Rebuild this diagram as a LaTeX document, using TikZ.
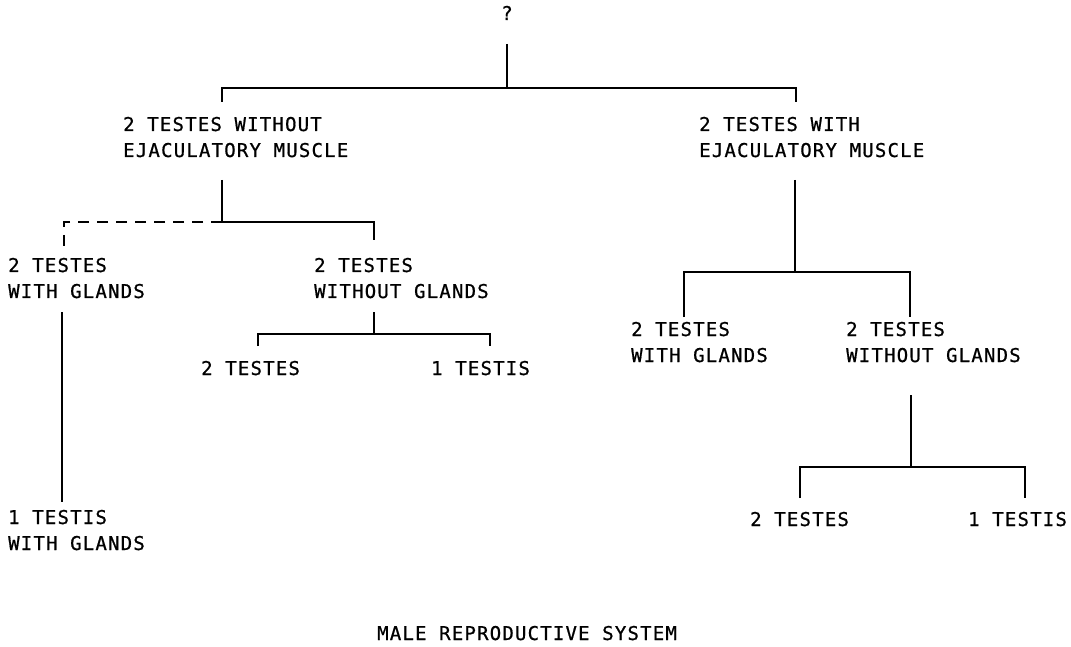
\documentclass[tikz,border=0pt]{standalone}
\usepackage{fontspec}
\newfontfamily\labfont[LetterSpace=6.3,FakeBold=0.8]{DejaVu Sans Mono}
\begin{document}
\begin{tikzpicture}[x=1pt,y=-1pt,
  lab/.style={anchor=base west,align=left,inner sep=0pt,font=\labfont\fontsize{19}{26}\selectfont},
  tree/.style={line width=1.8pt,line cap=butt,line join=miter},
  stem/.style={line width=1.5pt},
  dashline/.style={line width=1.8pt,dash pattern=on 11pt off 8pt}]
\useasboundingbox (0,0) rectangle (1071,647);
% labels (multi-line nodes: base anchor is the last line's baseline)
\node[lab,anchor=base] (q) at (507,20) {?};
\node[lab] (l1) at (123,157) {2 TESTES WITHOUT\\EJACULATORY MUSCLE};
\node[lab] (r1) at (699,157) {2 TESTES WITH\\EJACULATORY MUSCLE};
\node[lab] (ll) at (8,298) {2 TESTES\\WITH GLANDS};
\node[lab] (lr) at (314,298) {2 TESTES\\WITHOUT GLANDS};
\node[lab] (lll) at (8,550) {1 TESTIS\\WITH GLANDS};
\node[lab] (lra) at (201,375) {2 TESTES};
\node[lab] (lrb) at (431,375) {1 TESTIS};
\node[lab] (rl) at (631,362) {2 TESTES\\WITH GLANDS};
\node[lab] (rr) at (846,362) {2 TESTES\\WITHOUT GLANDS};
\node[lab] (rra) at (750,526) {2 TESTES};
\node[lab] (rrb) at (968,526) {1 TESTIS};
\node[lab] (title) at (377,640) {MALE REPRODUCTIVE SYSTEM};
% coordinates
\coordinate (qs) at (507,44);
\coordinate (qj) at (507,88);
\coordinate (b1l) at (222,88);
\coordinate (b1r) at (796,88);
\coordinate (b1le) at (222,102);
\coordinate (b1re) at (796,102);
\coordinate (l1s) at (222,180);
\coordinate (l1j) at (222,222);
\coordinate (l1a) at (64,222);
\coordinate (l1ae) at (64,248);
\coordinate (l1b) at (374,222);
\coordinate (l1be) at (374,240);
\coordinate (lls) at (62,312);
\coordinate (lle) at (62,502);
\coordinate (lrs) at (374,312);
\coordinate (lrj) at (374,334);
\coordinate (lrl) at (258,334);
\coordinate (lrr) at (490,334);
\coordinate (lrle) at (258,346);
\coordinate (lrre) at (490,346);
\coordinate (r1s) at (795,180);
\coordinate (r1j) at (795,272);
\coordinate (r1l) at (684,272);
\coordinate (r1r) at (910,272);
\coordinate (r1le) at (684,317);
\coordinate (r1re) at (910,317);
\coordinate (rrs) at (911,395);
\coordinate (rrj) at (911,467);
\coordinate (rrl) at (800,467);
\coordinate (rrr) at (1025,467);
\coordinate (rrle) at (800,498);
\coordinate (rrre) at (1025,498);
% connectors
\draw[tree,stem] (qs) -- (qj);
\draw[tree] (b1le) -- (b1l) -- (b1r) -- (b1re);
\draw[tree,stem] (l1s) -- (l1j);
\draw[dashline] (l1j) -- (l1a) -- (l1ae);
\draw[tree] (l1j) -- (l1b) -- (l1be);
\draw[tree,stem] (lls) -- (lle);
\draw[tree,stem] (lrs) -- (lrj);
\draw[tree] (lrle) -- (lrl) -- (lrr) -- (lrre);
\draw[tree,stem] (r1s) -- (r1j);
\draw[tree] (r1le) -- (r1l) -- (r1r) -- (r1re);
\draw[tree,stem] (rrs) -- (rrj);
\draw[tree] (rrle) -- (rrl) -- (rrr) -- (rrre);
\end{tikzpicture}
\end{document}
